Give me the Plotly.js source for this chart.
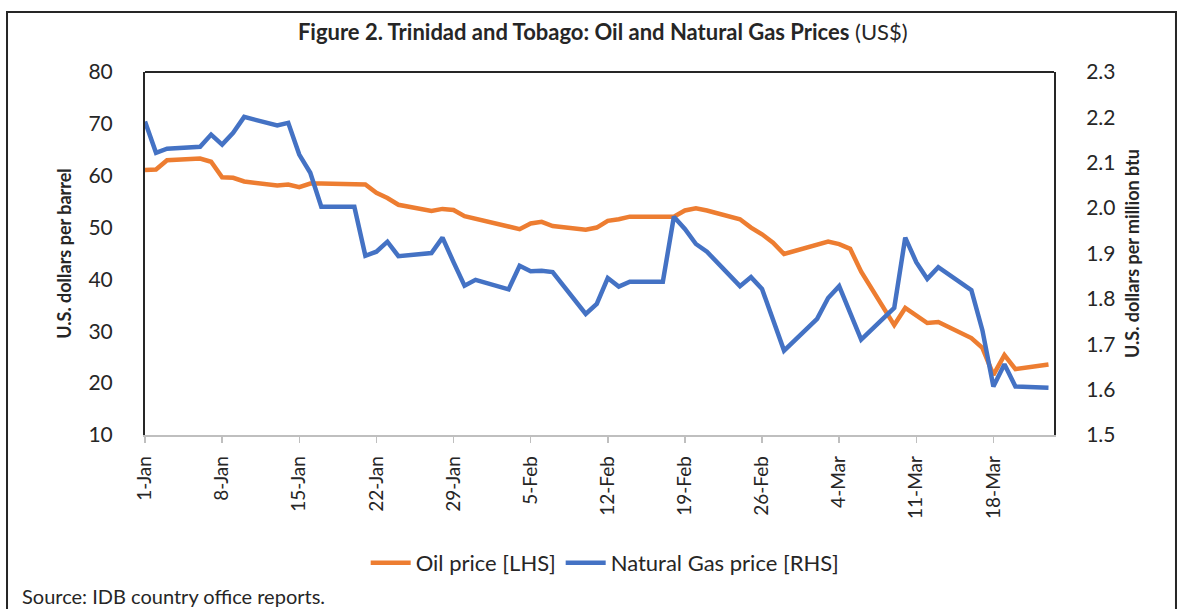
<!DOCTYPE html>
<html>
<head>
<meta charset="utf-8">
<script src="https://cdn.plot.ly/plotly-3.0.1.min.js"></script>
<style>html,body{margin:0;padding:0;background:#fff;}#chart{width:1182px;height:609px;}</style>
</head>
<body>
<div id="chart"></div>
<script>
const oilDates = ['2020-01-01','2020-01-02','2020-01-03','2020-01-06','2020-01-07','2020-01-08','2020-01-09','2020-01-10','2020-01-13','2020-01-14','2020-01-15','2020-01-16','2020-01-17','2020-01-20','2020-01-21','2020-01-22','2020-01-23','2020-01-24','2020-01-27','2020-01-28','2020-01-29','2020-01-30','2020-02-04','2020-02-05','2020-02-06','2020-02-07','2020-02-10','2020-02-11','2020-02-12','2020-02-13','2020-02-14','2020-02-18','2020-02-19','2020-02-20','2020-02-21','2020-02-24','2020-02-25','2020-02-26','2020-02-27','2020-02-28','2020-03-02','2020-03-03','2020-03-04','2020-03-05','2020-03-06','2020-03-09','2020-03-10','2020-03-11','2020-03-12','2020-03-13','2020-03-16','2020-03-17','2020-03-18','2020-03-19','2020-03-20','2020-03-23'];
const oilPrice = [61.1,61.2,63.0,63.3,62.7,59.7,59.6,58.9,58.1,58.3,57.8,58.5,58.5,58.5,58.3,56.7,55.7,54.4,53.2,53.6,53.4,52.2,49.7,50.8,51.1,50.3,49.6,50.0,51.3,51.6,52.1,52.1,53.3,53.7,53.3,51.6,50.0,48.7,47.1,44.9,46.8,47.3,46.8,45.9,41.5,31.2,34.5,33.1,31.6,31.8,28.7,26.8,21.6,25.4,22.7,23.6];

const gasDates = ['2020-01-01','2020-01-02','2020-01-03','2020-01-06','2020-01-07','2020-01-08','2020-01-09','2020-01-10','2020-01-13','2020-01-14','2020-01-15','2020-01-16','2020-01-17','2020-01-20','2020-01-21','2020-01-22','2020-01-23','2020-01-24','2020-01-27','2020-01-28','2020-01-29','2020-01-30','2020-01-31','2020-02-03','2020-02-04','2020-02-05','2020-02-06','2020-02-07','2020-02-10','2020-02-11','2020-02-12','2020-02-13','2020-02-14','2020-02-17','2020-02-18','2020-02-19','2020-02-20','2020-02-21','2020-02-24','2020-02-25','2020-02-26','2020-02-28','2020-03-02','2020-03-03','2020-03-04','2020-03-06','2020-03-09','2020-03-10','2020-03-11','2020-03-12','2020-03-13','2020-03-16','2020-03-17','2020-03-18','2020-03-19','2020-03-20','2020-03-23'];
const gasPrice = [2.191,2.122,2.131,2.135,2.162,2.140,2.166,2.201,2.182,2.188,2.118,2.078,2.003,2.003,1.895,1.904,1.926,1.894,1.901,1.935,1.881,1.829,1.842,1.821,1.873,1.861,1.862,1.859,1.767,1.789,1.846,1.827,1.838,1.838,1.981,1.954,1.921,1.904,1.828,1.848,1.822,1.686,1.756,1.802,1.828,1.710,1.780,1.935,1.881,1.844,1.870,1.819,1.731,1.607,1.656,1.607,1.604];

const xTickVals = ['2020-01-01','2020-01-08','2020-01-15','2020-01-22','2020-01-29','2020-02-05','2020-02-12','2020-02-19','2020-02-26','2020-03-04','2020-03-11','2020-03-18'];
const xTickText = ['1-Jan','8-Jan','15-Jan','22-Jan','29-Jan','5-Feb','12-Feb','19-Feb','26-Feb','4-Mar','11-Mar','18-Mar'];

const FONT = 'Lato, "Open Sans", sans-serif';
const TXT = '#262626';

const traces = [
  {x: oilDates, y: oilPrice, name: 'Oil price [LHS]', type: 'scatter', mode: 'lines',
   line: {color: '#ED7D31', width: 4.5, shape: 'linear'}, yaxis: 'y'},
  {x: gasDates, y: gasPrice, name: 'Natural Gas price [RHS]', type: 'scatter', mode: 'lines',
   line: {color: '#4472C4', width: 4.5, shape: 'linear'}, yaxis: 'y2'}
];

const layout = {
  width: 1182, height: 609,
  margin: {l: 145, r: 128, t: 72, b: 174},
  paper_bgcolor: '#fff', plot_bgcolor: '#fff',
  font: {family: FONT, color: TXT},
  showlegend: true,
  title: {text: '<b>Figure 2. Trinidad and Tobago: Oil and Natural Gas Prices</b> (US$)',
          font: {family: FONT, size: 22, color: TXT},
          x: 0.51, xref: 'container', xanchor: 'center',
          y: 0.947, yref: 'container', yanchor: 'middle'},
  xaxis: {type: 'date', range: ['2020-01-01', '2020-03-23 12:00'],
          tickmode: 'array', tickvals: xTickVals, ticktext: xTickText,
          tickangle: -90, tickfont: {size: 19, color: TXT, family: FONT},
          showgrid: false, zeroline: false,
          showline: true, linecolor: '#BFBFBF', linewidth: 1.5,
          ticks: 'outside', ticklen: 6, tickcolor: '#BFBFBF', tickwidth: 1.5,
          ticklabelstandoff: 6},
  yaxis: {range: [10, 80], dtick: 10, tick0: 10, showgrid: false, zeroline: false,
          showline: true, linecolor: '#262626', linewidth: 2,
          ticks: '', tickfont: {size: 21, color: TXT, family: FONT},
          ticklabelstandoff: 26,
          title: {text: '<b>U.S. dollars per barrel</b>', font: {size: 18, color: TXT, family: FONT}, standoff: 12}},
  yaxis2: {range: [1.5, 2.3], dtick: 0.1, tick0: 1.5, tickformat: '.1f', overlaying: 'y', side: 'right',
           showgrid: false, zeroline: false,
           showline: true, linecolor: '#262626', linewidth: 2,
           ticks: '', tickfont: {size: 21, color: TXT, family: FONT},
           ticklabelstandoff: 26,
           title: {text: '<b>U.S. dollars per million btu</b>', font: {size: 18, color: TXT, family: FONT}, standoff: 12}},
  legend: {orientation: 'h', x: 0.512, xref: 'container', xanchor: 'center',
           y: 0.0755, yref: 'container', yanchor: 'middle',
           font: {size: 22, color: TXT, family: FONT}, itemwidth: 40, tracegroupgap: 0,
           bgcolor: 'rgba(0,0,0,0)'},
  shapes: [
    {type: 'line', xref: 'paper', yref: 'paper', x0: 0, x1: 1, y0: 1, y1: 1, line: {color: '#262626', width: 2}},
    {type: 'rect', xref: 'paper', yref: 'paper', x0: -0.1518, x1: 1.1342, y0: -0.52, y1: 1.1653,
     line: {color: '#262626', width: 2}, fillcolor: 'rgba(0,0,0,0)', layer: 'below'}
  ],
  annotations: [
    {text: 'Source: IDB country office reports.', xref: 'paper', yref: 'paper',
     x: (20 - 145) / 909, y: (435 - 596) / 363, xanchor: 'left', yanchor: 'middle', showarrow: false,
     font: {size: 20, color: TXT, family: FONT}}
  ]
};

Plotly.newPlot('chart', traces, layout, {displayModeBar: false, staticPlot: true});
</script>
</body>
</html>
